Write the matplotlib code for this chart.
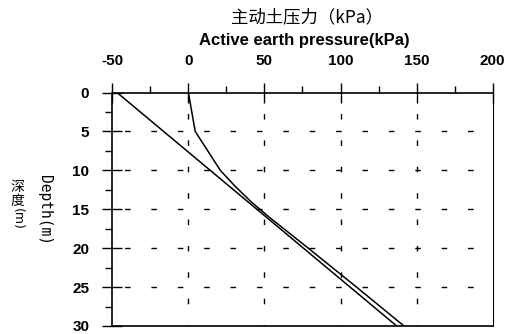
import numpy as np
import matplotlib
matplotlib.use('Agg')
import matplotlib.pyplot as plt
from matplotlib.ticker import MultipleLocator

# straight line: pressure vs depth
depth_a = [0, 30]
press_a = [-46.9, 136.9]

# kinked line
depth_b = [0, 5, 10, 12, 14, 16, 20, 25, 30]
press_b = [0, 4.5, 21, 30.5, 41, 53, 78.8, 110.5, 141.7]

x_ticks = [-50, 0, 50, 100, 150, 200]
y_ticks = [0, 5, 10, 15, 20, 25, 30]

plt.rcParams['font.family'] = ['Liberation Sans', 'DejaVu Sans']
plt.rcParams['axes.unicode_minus'] = False

fig = plt.figure(figsize=(5.06, 3.34), dpi=100)
ax = fig.add_axes([0.2219, 0.024, 0.7518, 0.699])

ax.plot(press_a, depth_a, color='black', linewidth=1.1)
ax.plot(press_b, depth_b, color='black', linewidth=1.1)

ax.set_xlim(-50, 200)
ax.set_ylim(30, 0)

ax.xaxis.tick_top()
ax.set_xticks(x_ticks)
ax.set_yticks(y_ticks)
ax.xaxis.set_minor_locator(MultipleLocator(25))
ax.yaxis.set_minor_locator(MultipleLocator(2.5))

ax.tick_params(axis='x', which='major', direction='inout', length=14, width=1,
               pad=11, labelsize=11)
ax.tick_params(axis='x', which='minor', direction='out', length=5, width=1)
ax.tick_params(axis='y', which='major', direction='inout', length=15, width=1,
               pad=9, labelsize=11)
ax.tick_params(axis='y', which='minor', direction='out', length=5, width=1)
for lab in ax.get_xticklabels() + ax.get_yticklabels():
    lab.set_fontweight('bold')

for side in ['top', 'left', 'bottom']:
    ax.spines[side].set_linewidth(1.2)
ax.spines['right'].set_linewidth(0.8)

# dashed grid inside the plot
for xv in [0, 50, 100, 150]:
    ax.axvline(xv, color='black', linewidth=1, linestyle=(3, (4, 15)))
for yv in [5, 10, 15, 20, 25]:
    ax.axhline(yv, color='black', linewidth=1, linestyle=(10, (4, 15)))

fig.text(0.607, 0.948, '主动土压力（kPa）', ha='center', va='center', fontsize=12.5,
         family=['Noto Sans CJK SC', 'DejaVu Sans'])
fig.text(0.601, 0.88, 'Active earth pressure(kPa)', ha='center', va='center',
         fontsize=12, fontweight='bold')

fig.text(0.088, 0.371, 'Depth(m)', ha='center', va='center', rotation=-90,
         fontsize=10.5, family='DejaVu Sans Mono')
fig.text(0.034, 0.420, '深\n度', ha='center', va='center', fontsize=10,
         linespacing=1.0, family='Noto Sans CJK SC')
fig.text(0.034, 0.345, '(m)', ha='center', va='center', rotation=-90, fontsize=9,
         family='DejaVu Sans')

fig.savefig('out.png', dpi=100)
